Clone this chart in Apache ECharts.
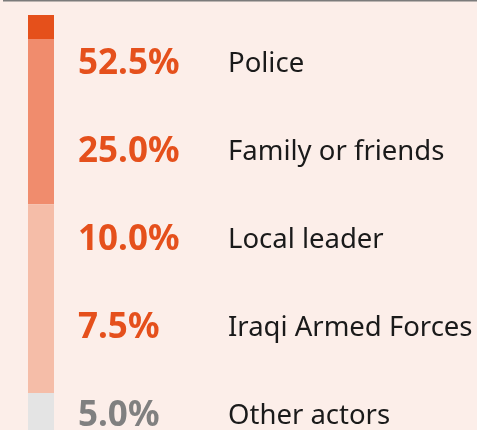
<!DOCTYPE html>
<html>
<head>
<meta charset="utf-8">
<script src="https://cdn.jsdelivr.net/npm/echarts@6/dist/echarts.min.js"></script>
<style>
  html, body { margin: 0; padding: 0; background: #FCEEE9; }
  #chart { width: 477px; height: 430px; }
</style>
</head>
<body>
<div id="chart"></div>
<script>
// Who people turned to, with each group's share
const categories = ['Police', 'Family or friends', 'Local leader', 'Iraqi Armed Forces', 'Other actors'];
const shares = [52.5, 25.0, 10.0, 7.5, 5.0];
const shareColors = ['#E5501C', '#E5501C', '#E5501C', '#E5501C', '#808080'];

// Stacked side bar: segment lengths (share of the visible bar) and colours
const barSegments = [5.8, 39.8, 45.5, 8.9];
const barColors = ['#E5501B', '#F08C6D', '#F5BDA8', '#E4E4E4'];

const FONT = '"Noto Sans", sans-serif';

// Label rows: one row every ROW_STEP pixels, first row centred ROW_STEP/2 below LIST_TOP
const LIST_TOP = 20, LIST_HEIGHT = 410, ROW_STEP = 88;

const chart = echarts.init(document.getElementById('chart'), null, { renderer: 'canvas' });

const barSeries = barSegments.map((v, i) => ({
  type: 'bar',
  stack: 'side',
  xAxisIndex: 0,
  yAxisIndex: 0,
  barWidth: 26,
  silent: true,
  itemStyle: { color: barColors[i] },
  data: [v]
}));

const rows = categories.map((c, i) => i);

chart.setOption({
  backgroundColor: '#FCEEE9',
  animation: false,
  grid: [
    { left: 28, width: 26, top: 15, bottom: 0 },
    { left: 78, width: 150, top: LIST_TOP, height: LIST_HEIGHT }
  ],
  xAxis: [
    { gridIndex: 0, type: 'category', data: [''], show: false },
    { gridIndex: 1, type: 'value', min: 0, max: 150, show: false }
  ],
  yAxis: [
    { gridIndex: 0, type: 'value', min: 0, max: 100, inverse: true, show: false },
    { gridIndex: 1, type: 'value', inverse: true, show: false,
      min: -0.5, max: LIST_HEIGHT / ROW_STEP - 0.5 }
  ],
  graphic: [
    { type: 'line', shape: { x1: 3, y1: 0.5, x2: 477, y2: 0.5 },
      style: { stroke: '#7B7B7B', lineWidth: 2 }, silent: true }
  ],
  series: barSeries.concat([
    {
      type: 'scatter',
      xAxisIndex: 1, yAxisIndex: 1,
      symbolSize: 0,
      silent: true,
      itemStyle: { opacity: 1 },
      data: shares.map((v, i) => ({
        value: [0, rows[i]],
        label: { color: shareColors[i] }
      })),
      label: {
        show: true, position: 'right', distance: 0,
        fontFamily: FONT, fontWeight: 'bold', fontSize: 35,
        formatter: p => shares[p.dataIndex].toFixed(1) + '%'
      }
    },
    {
      type: 'scatter',
      xAxisIndex: 1, yAxisIndex: 1,
      symbolSize: 0,
      silent: true,
      itemStyle: { opacity: 1 },
      data: categories.map((c, i) => [150, rows[i]]),
      label: {
        show: true, position: 'right', distance: 0,
        fontFamily: FONT, fontSize: 27.5, color: '#1A1A1A',
        formatter: p => categories[p.dataIndex]
      }
    }
  ])
});
</script>
</body>
</html>
